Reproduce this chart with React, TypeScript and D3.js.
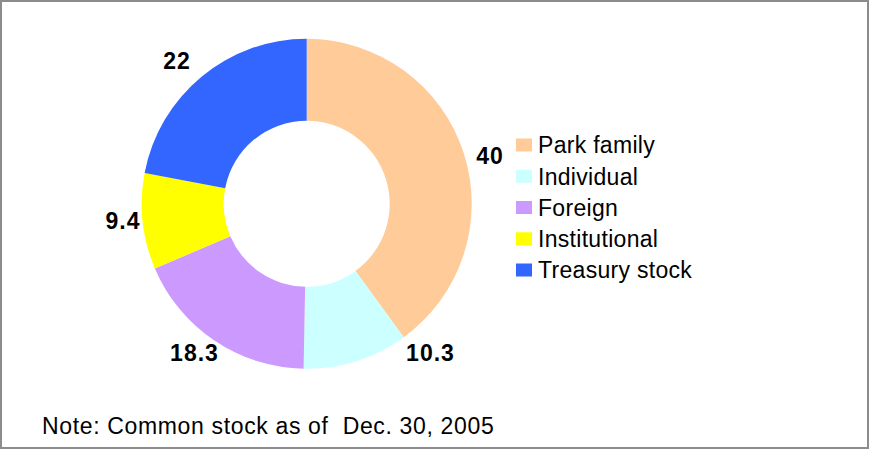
import React from "react";
import * as d3 from "d3";

const categories = ["Park family", "Individual", "Foreign", "Institutional", "Treasury stock"];
const values = [40, 10.3, 18.3, 9.4, 22];
const valueLabels = ["40", "10.3", "18.3", "9.4", "22"];
const colors = ["#FFCC99", "#CCFFFF", "#CC99FF", "#FFFF00", "#3366FF"];
const noteText = "Note: Common stock as of\u00a0\u00a0Dec. 30, 2005";

// layout-only nudges for the data labels (Excel moved some of them)
const labelNudge: [number, number][] = [
  [5.5, 9.5],
  [67.7, -29.2],
  [-7.6, -5.8],
  [2.2, -3.2],
  [-10.5, 1.3],
];

const W = 869;
const H = 449;
const cx = 306.7;
const cy = 203.8;
const rOuter = 165;
const rInner = 83;
const rLabel = 187;

export default function App() {
  const pie = d3
    .pie<number>()
    .sort(null)
    .value((d) => d)
    .startAngle(0)
    .endAngle(2 * Math.PI);
  const arcs = pie(values);
  const arc = d3.arc<d3.PieArcDatum<number>>().innerRadius(rInner).outerRadius(rOuter);
  const labelArc = d3.arc<d3.PieArcDatum<number>>().innerRadius(rLabel).outerRadius(rLabel);

  const legendY = d3.scaleLinear().domain([0, categories.length - 1]).range([145, 270]);

  return (
    <svg
      width={W}
      height={H}
      style={{ position: "absolute", left: 0, top: 0, background: "#fff" }}
      fontFamily="'Liberation Sans', Arial, sans-serif"
    >
      <rect x={1} y={1} width={W - 2} height={H - 2} fill="#fff" stroke="#8c8c8c" strokeWidth={2} />
      <g transform={`translate(${cx},${cy})`}>
        {arcs.map((a, i) => (
          <path key={i} d={arc(a) || ""} fill={colors[i]} />
        ))}
        {arcs.map((a, i) => {
          const [x, y] = labelArc.centroid(a);
          return (
            <text
              key={i}
              x={x + labelNudge[i][0]}
              y={y + labelNudge[i][1] + 8.3}
              textAnchor="middle"
              fontSize={23}
              fontWeight="bold"
              letterSpacing={1}
              fill="#000"
            >
              {valueLabels[i]}
            </text>
          );
        })}
      </g>
      <g>
        {categories.map((c, i) => (
          <g key={c}>
            <rect x={516} y={legendY(i) - 6.5} width={16} height={13} fill={colors[i]} />
            <text x={538} y={legendY(i) + 8.3} fontSize={23} letterSpacing={0.3} fill="#000">
              {c}
            </text>
          </g>
        ))}
      </g>
      <text x={42} y={434} fontSize={23} letterSpacing={0.65} fill="#000">
        {noteText}
      </text>
    </svg>
  );
}
